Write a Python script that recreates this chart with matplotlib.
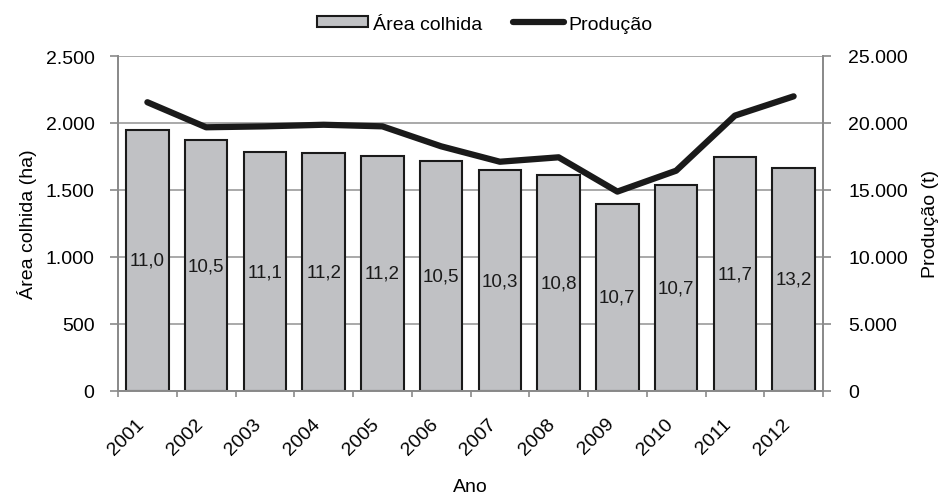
import matplotlib
matplotlib.use("Agg")
import matplotlib.pyplot as plt
import matplotlib.transforms as mtransforms
import numpy as np

plt.rcParams['font.family'] = ['Liberation Sans', 'DejaVu Sans']

anos = ['2001', '2002', '2003', '2004', '2005', '2006', '2007', '2008', '2009', '2010', '2011', '2012']
area_colhida = [1950, 1873, 1781, 1776, 1756, 1719, 1649, 1610, 1396, 1535, 1749, 1667]
producao = [21550, 19680, 19750, 19870, 19750, 18260, 17110, 17440, 14880, 16440, 20550, 21990]
produtividade = ['11,0', '10,5', '11,1', '11,2', '11,2', '10,5', '10,3', '10,8', '10,7', '10,7', '11,7', '13,2']
left_ticks = [0, 500, 1000, 1500, 2000, 2500]
left_labels = ['0', '500', '1.000', '1.500', '2.000', '2.500']
right_ticks = [0, 5000, 10000, 15000, 20000, 25000]
right_labels = ['0', '5.000', '10.000', '15.000', '20.000', '25.000']

fig = plt.figure(figsize=(9.41, 5.02), dpi=100)
ax = fig.add_axes([118/941, 1-392/502, (823-118)/941, (392-57)/502])
ax2 = ax.twinx()

x = np.arange(len(anos))
grid_c = '#a3a3a3'
spine_c = '#8a8a8a'
fs = 14

ax.set_axisbelow(True)
ax.yaxis.grid(True, color=grid_c, linewidth=1.3)
ax.bar(x, area_colhida, width=0.725, color='#c0c1c4', edgecolor='#1a1a1a', linewidth=1.5, zorder=2, label='Área colhida')
for xi, h, lab in zip(x, area_colhida, produtividade):
    ax.text(xi, h/2, lab, ha='center', va='center', fontsize=13.5, color='#1a1a1a', zorder=3)

ax.set_xlim(-0.5, len(anos)-0.5)
ax.set_ylim(0, 2500)
ax.set_yticks(left_ticks)
ax.set_yticklabels(left_labels, fontsize=fs)
ax.set_xticks(x)
ax.set_xticklabels(anos, fontsize=fs, rotation=45, ha='right', va='top')
offset = mtransforms.ScaledTranslation(-2/72, 0, fig.dpi_scale_trans)
for t in ax.get_xticklabels():
    t.set_transform(t.get_transform() + offset)
ax.tick_params(axis='x', length=0, pad=17)
ax.set_xticks(np.arange(-0.5, len(anos)), minor=True)
ax.tick_params(axis='x', which='minor', length=4, color=spine_c, width=1.2, direction='out')
ax.tick_params(axis='y', length=6, color=spine_c, width=1.2, direction='out', pad=11)
for s in ['top']:
    ax.spines[s].set_visible(False)
    ax2.spines[s].set_visible(False)
for s in ['left', 'bottom', 'right']:
    ax.spines[s].set_color(spine_c)
    ax.spines[s].set_linewidth(1.3)
    ax2.spines[s].set_color(spine_c)
    ax2.spines[s].set_linewidth(1.3)

ax2.plot(x, producao, color='#1a1a1a', linewidth=4.5, solid_capstyle='round', solid_joinstyle='round', zorder=4, label='Produção')
ax2.set_ylim(0, 25000)
ax2.set_yticks(right_ticks)
ax2.set_yticklabels(right_labels, fontsize=fs)
ax2.tick_params(axis='y', length=6, color=spine_c, width=1.2, direction='out', pad=12)

ax.set_ylabel('Área colhida (ha)', fontsize=fs, labelpad=6)
ax2.set_ylabel('Produção (t)', fontsize=fs, labelpad=10)
ax.set_xlabel('Ano', fontsize=fs, labelpad=15)

h1, l1 = ax.get_legend_handles_labels()
h2, l2 = ax2.get_legend_handles_labels()
fig.legend(h1 + h2, l1 + l2, loc='center', bbox_to_anchor=(485/941, 1-25/502), ncol=2,
           frameon=False, fontsize=fs, handlelength=2.6, handletextpad=0.25, columnspacing=1.6,
           handleheight=0.5)

fig.savefig('out.png', dpi=100)
